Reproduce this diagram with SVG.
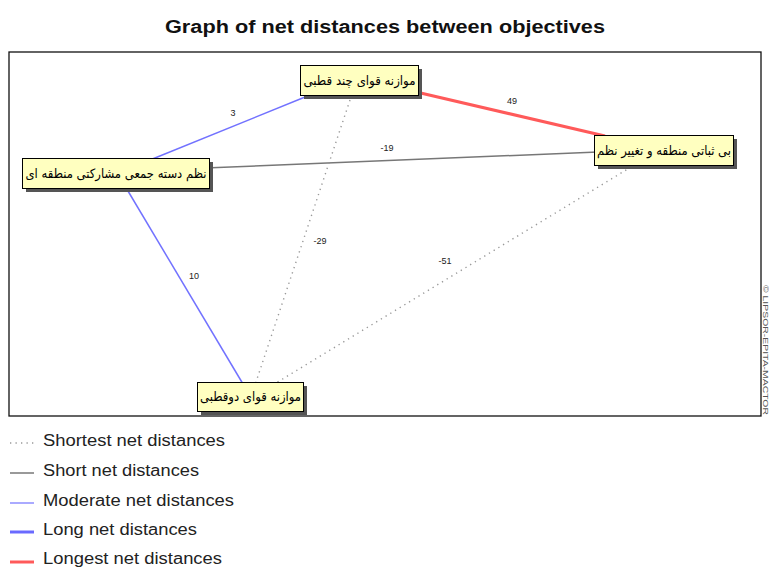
<svg xmlns="http://www.w3.org/2000/svg" width="769" height="568" viewBox="0 0 769 568">
<style>
.title{font-family:"Liberation Sans",Arial,sans-serif;font-weight:bold;font-size:18px;fill:#111}
.lbl{font-family:"Liberation Sans",Arial,sans-serif;font-size:9px;fill:#222;text-anchor:middle}
.node rect.box{fill:#ffffc0;stroke:#000;stroke-width:1}
.node rect.sh{fill:#555}
.node text{font-family:"DejaVu Sans","Noto Sans",sans-serif;font-size:13px;fill:#000;text-anchor:middle}
.leg{font-family:"Liberation Sans",Arial,sans-serif;font-size:16px;fill:#222}
.shortest{stroke:#999;stroke-width:1.4;stroke-dasharray:1.3 4.2;fill:none}
.short{stroke:#777;stroke-width:1.5;fill:none}
.moderate{stroke:#7272ff;stroke-width:1.5;fill:none}
.long{stroke:#6a6aff;stroke-width:3;fill:none}
.longest{stroke:#ff5a5a;stroke-width:3;fill:none}
</style>
<rect width="769" height="568" fill="#fff"/>
<text class="title" x="385" y="33" text-anchor="middle" textLength="440" lengthAdjust="spacingAndGlyphs">Graph of net distances between objectives</text>
<rect x="9" y="52" width="752" height="364" fill="none" stroke="#111" stroke-width="1.3"/>
<text x="762.5" y="285" font-family="Liberation Sans,Arial,sans-serif" font-size="7" fill="#555" transform="rotate(90 762.5 285)" textLength="130" lengthAdjust="spacingAndGlyphs">© LIPSOR-EPITA-MACTOR</text>
<g id="connectors">
<line class="moderate" x1="310" y1="95" x2="150" y2="160"/>
<line class="longest" x1="412" y1="91" x2="605" y2="136"/>
<line class="short" x1="205" y1="168" x2="598" y2="152"/>
<line class="shortest" x1="350" y1="100" x2="256" y2="382"/>
<line class="shortest" x1="631" y1="167" x2="276" y2="383"/>
<line class="moderate" x1="125" y1="186" x2="243" y2="384"/>
<text class="lbl" x="233" y="116">3</text>
<text class="lbl" x="512" y="104">49</text>
<text class="lbl" x="387" y="151">-19</text>
<text class="lbl" x="320" y="244">-29</text>
<text class="lbl" x="445" y="264">-51</text>
<text class="lbl" x="194" y="279">10</text>
</g>
<g id="n1" class="node">
<rect class="sh" x="304" y="69" width="118" height="30"/>
<rect class="box" x="300.5" y="65.5" width="118" height="30"/>
<text x="359.5" y="85" textLength="112" lengthAdjust="spacingAndGlyphs">موازنه قوای چند قطبی</text>
</g>
<g id="n2" class="node">
<rect class="sh" x="26" y="162" width="187" height="30"/>
<rect class="box" x="22.5" y="158.5" width="187" height="30"/>
<text x="116" y="178" textLength="181" lengthAdjust="spacingAndGlyphs">نظم دسته جمعی مشارکتی منطقه ای</text>
</g>
<g id="n3" class="node">
<rect class="sh" x="598" y="139" width="139" height="30"/>
<rect class="box" x="594.5" y="135.5" width="139" height="30"/>
<text x="664" y="155" textLength="134" lengthAdjust="spacingAndGlyphs">بی ثباتی منطقه و تغییر نظم</text>
</g>
<g id="n4" class="node">
<rect class="sh" x="201" y="386" width="106" height="29"/>
<rect class="box" x="197.5" y="382.5" width="106" height="29"/>
<text x="250.5" y="401" textLength="101" lengthAdjust="spacingAndGlyphs">موازنه قوای دوقطبی</text>
</g>
<g id="legend">
<line class="shortest" x1="10" y1="443" x2="34" y2="443"/>
<text class="leg" x="43" y="446" textLength="182" lengthAdjust="spacingAndGlyphs">Shortest net distances</text>
<line class="short" x1="10" y1="473" x2="34" y2="473" style="stroke-width:1.2;stroke:#555"/>
<text class="leg" x="43" y="476" textLength="156" lengthAdjust="spacingAndGlyphs">Short net distances</text>
<line class="moderate" x1="10" y1="503" x2="34" y2="503" style="stroke-width:1.2"/>
<text class="leg" x="43" y="506" textLength="191" lengthAdjust="spacingAndGlyphs">Moderate net distances</text>
<line class="long" x1="10" y1="532" x2="34" y2="532"/>
<text class="leg" x="43" y="535" textLength="154" lengthAdjust="spacingAndGlyphs">Long net distances</text>
<line class="longest" x1="10" y1="562" x2="34" y2="562"/>
<text class="leg" x="43" y="564" textLength="179" lengthAdjust="spacingAndGlyphs">Longest net distances</text>
</g>
</svg>
